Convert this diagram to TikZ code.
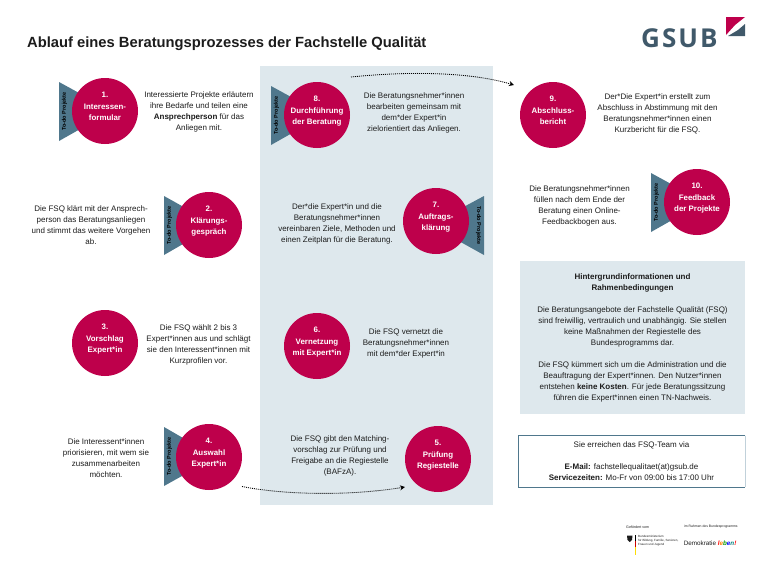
\documentclass[tikz,border=0pt]{standalone}
\usepackage{fontspec}
\setmainfont{Liberation Sans}
\newfontfamily\logofont[LetterSpace=8]{Open Sans}
\usetikzlibrary{arrows.meta}
\definecolor{crim}{HTML}{BE004B}
\definecolor{teal1}{HTML}{4F778C}
\definecolor{panel}{HTML}{DEE8ED}
\definecolor{logoc}{HTML}{40596A}
\definecolor{ink}{HTML}{1C1C1C}
\tikzset{
  x=1pt,y=-1pt,
  stepc/.style={circle,fill=crim,minimum size=66pt,inner sep=0pt,text=white,align=center,font=\fontsize{7.9}{11.2}\selectfont\bfseries},
  desc/.style={align=center,inner sep=0pt,text=ink,font=\fontsize{8}{11}\selectfont},
  tri/.style={fill=teal1},
  todo/.style={inner sep=0pt,text=black,font=\fontsize{5.5}{6}\selectfont\bfseries},
  flow/.style={dash pattern=on 1pt off 1pt,line width=0.85pt,black,-{Stealth[length=5pt,width=5pt]}},
  tiny/.style={inner sep=0pt,anchor=west,text=ink,align=left}
}
\begin{document}
\begin{tikzpicture}
\useasboundingbox (0,0) rectangle (768,576);
\fill[white] (0,0) rectangle (768,576);
\fill[panel] (260,66) rectangle (493,505);
\fill[panel] (520,261) rectangle (745,414);
\draw[teal1,line width=0.8pt] (745,435.5) -- (518.5,435.5) -- (518.5,487) -- (745,487);
\draw[panel!80!teal1,line width=0.8pt] (745,435.5) -- (745,487);

\node[inner sep=0pt,anchor=base west,text=ink,font=\fontsize{14.75}{16}\selectfont\bfseries] (title) at (27,47) {Ablauf eines Beratungsprozesses der Fachstelle Qualität};

% logo
\node[inner sep=0pt,anchor=base west,text=logoc,font=\fontsize{26}{27}\logofont\bfseries] (logo) at (641,47) {GSUB};
\fill[crim] (726,17) -- (745,17) -- (735,25) -- (726,35) -- cycle;
\fill[logoc] (745,24) -- (745,36) -- (728,36) -- (738,30) -- cycle;

% triangles
\fill[tri] (59,82) -- (59,141) -- (112,111) -- cycle;
\fill[tri] (164,196) -- (164,255) -- (216,225) -- cycle;
\fill[tri] (164,427) -- (164,486) -- (216,457) -- cycle;
\fill[tri] (271,86) -- (271,145) -- (324,115) -- cycle;
\fill[tri] (484,196) -- (484,255) -- (430,225) -- cycle;
\fill[tri] (651,173) -- (651,232) -- (704,202) -- cycle;

\node[todo,rotate=90] (t1) at (64.5,111.5) {To-do Projekte};
\node[todo,rotate=90] (t2) at (169.5,225.5) {To-do Projekte};
\node[todo,rotate=90] (t4) at (169.5,456.5) {To-do Projekte};
\node[todo,rotate=90] (t8) at (276.5,115.5) {To-do Projekte};
\node[todo,rotate=-90] (t7) at (478.5,225.5) {To-do Projekte};
\node[todo,rotate=90] (t10) at (656.5,202.5) {To-do Projekte};

% circles (the short empty last line lifts the text as in the reference)
\node[stepc] (n1) at (105,111) {1.\\Interessen-\\formular\\[-2pt]\mbox{}};
\node[stepc] (n2) at (209,225) {2.\\Klärungs-\\gespräch\\[-2pt]\mbox{}};
\node[stepc] (n3) at (105,343) {3.\\Vorschlag\\Expert*in\\[-2pt]\mbox{}};
\node[stepc] (n4) at (209,457) {4.\\Auswahl\\Expert*in\\[-2pt]\mbox{}};
\node[stepc] (n5) at (438,459) {5.\\Prüfung\\Regiestelle\\[-2pt]\mbox{}};
\node[stepc] (n6) at (317,346) {6.\\Vernetzung\\mit Expert*in\\[-2pt]\mbox{}};
\node[stepc] (n7) at (436,221) {7.\\Auftrags-\\klärung\\[-2pt]\mbox{}};
\node[stepc] (n8) at (317,115) {8.\\Durchführung\\der Beratung\\[-2pt]\mbox{}};
\node[stepc] (n9) at (553,115) {9.\\Abschluss-\\bericht\\[-2pt]\mbox{}};
\node[stepc] (n10) at (697,202) {10.\\Feedback\\der Projekte\\[-2pt]\mbox{}};

% descriptions
\node[desc] (d1) at (199,111.5) {Interessierte Projekte erläutern\\ihre Bedarfe und teilen eine\\\textbf{Ansprechperson} für das\\Anliegen mit.};
\node[desc] (d2) at (91,225) {Die FSQ klärt mit der Ansprech-\\person das Beratungsanliegen\\und stimmt das weitere Vorgehen\\ab.};
\node[desc] (d3) at (198.5,345) {Die FSQ wählt 2 bis 3\\Expert*innen aus und schlägt\\sie den Interessent*innen mit\\Kurzprofilen vor.};
\node[desc] (d4) at (106,458) {Die Interessent*innen\\priorisieren, mit wem sie\\zusammenarbeiten\\möchten.};
\node[desc] (d5) at (340,455.5) {Die FSQ gibt den Matching-\\vorschlag zur Prüfung und\\Freigabe an die Regiestelle\\(BAFzA).};
\node[desc] (d6) at (406,343) {Die FSQ vernetzt die\\Beratungsnehmer*innen\\mit dem*der Expert*in};
\node[desc] (d7) at (337,224) {Der*die Expert*in und die\\Beratungsnehmer*innen\\vereinbaren Ziele, Methoden und\\einen Zeitplan für die Beratung.};
\node[desc] (d8) at (414,113) {Die Beratungsnehmer*innen\\bearbeiten gemeinsam mit\\dem*der Expert*in\\zielorientiert das Anliegen.};
\node[desc] (d9) at (657.5,114) {Der*Die Expert*in erstellt zum\\Abschluss in Abstimmung mit den\\Beratungsnehmer*innen einen\\Kurzbericht für die FSQ.};
\node[desc] (d10) at (579.5,206) {Die Beratungsnehmer*innen\\füllen nach dem Ende der\\Beratung einen Online-\\Feedbackbogen aus.};

\node[desc] (bg) at (632.5,338) {\textbf{Hintergrundinformationen und}\\\textbf{Rahmenbedingungen}\\[11pt]Die Beratungsangebote der Fachstelle Qualität (FSQ)\\sind freiwillig, vertraulich und unabhängig. Sie stellen\\keine Maßnahmen der Regiestelle des\\Bundesprogramms dar.\\[11pt]Die FSQ kümmert sich um die Administration und die\\Beauftragung der Expert*innen. Den Nutzer*innen\\entstehen \textbf{keine Kosten}. Für jede Beratungssitzung\\führen die Expert*innen einen TN-Nachweis.};
\node[desc] (ct) at (631.5,461) {Sie erreichen das FSQ-Team via\\[11pt]\textbf{E-Mail:} fachstellequalitaet(at)gsub.de\\\textbf{Servicezeiten:} Mo-Fr von 09:00 bis 17:00 Uhr};

% connectors
\coordinate (a8) at (351,77);
\coordinate (a9) at (514,85);
\coordinate (b4) at (242,486.5);
\coordinate (b5) at (405,487);
\draw[flow] (a8) .. controls (410,71) and (470,72) .. (a9);
\draw[flow] (b4) .. controls (285,495) and (350,496) .. (b5);

% footer
\node[tiny,font=\fontsize{3.6}{4}\selectfont] (f1) at (626,527) {Gefördert vom};
\node[tiny,font=\fontsize{3.4}{4}\selectfont] (f2) at (684,527) {im Rahmen des Bundesprogramms};
\fill[ink] (627,535.5) -- (632.5,535.5) -- (632,540) -- (629.7,542) -- (627.5,540) -- cycle;
\fill[black] (634.8,535) rectangle (635.5,541);
\fill[red!80!black] (634.8,541) rectangle (635.5,547);
\fill[yellow!80!orange] (634.8,547) rectangle (635.5,555);
\node[tiny,font=\fontsize{3}{4}\selectfont] (f3) at (638,540.7) {Bundesministerium\\für Bildung, Familie, Senioren,\\Frauen und Jugend};
\node[inner sep=0pt,anchor=west,text=ink,font=\fontsize{6.3}{7}\selectfont] (f4) at (683.7,543.5) {Demokratie \textbf{\textit{\textcolor{red}{l}\textcolor{orange}{e}\textcolor{green!60!black}{b}\textcolor{blue}{e}\textcolor{teal}{n}\textcolor{red}{!}}}};
\end{tikzpicture}
\end{document}
